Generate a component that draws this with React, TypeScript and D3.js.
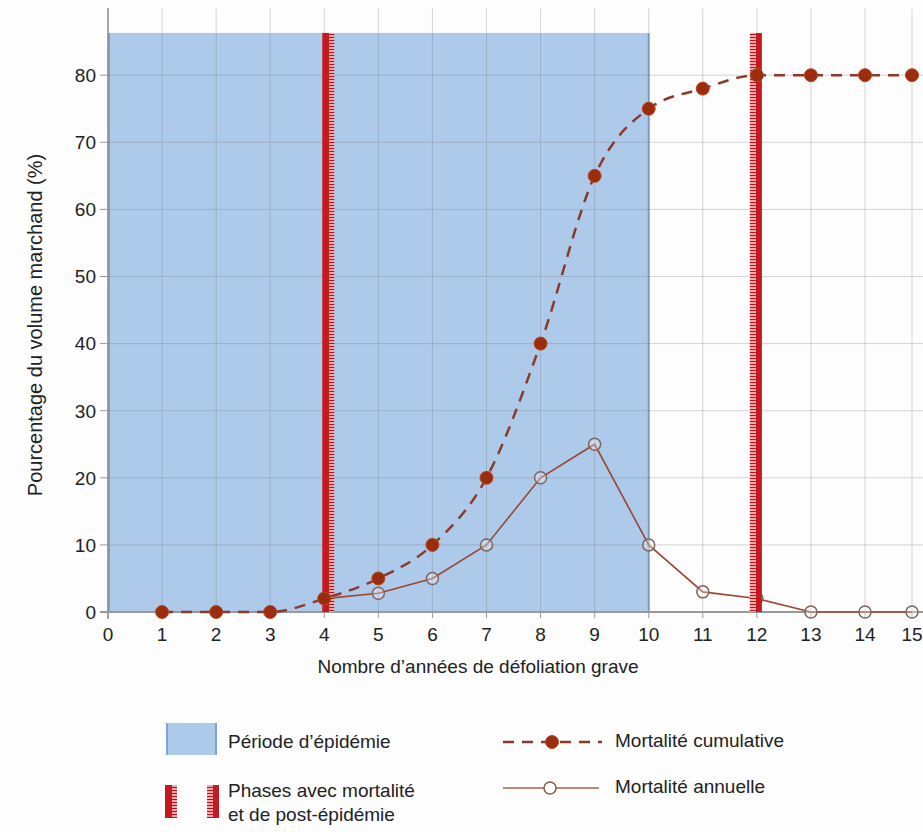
import React from "react";
import * as d3 from "d3";

const years = [1, 2, 3, 4, 5, 6, 7, 8, 9, 10, 11, 12, 13, 14, 15];
const cumulative = [0, 0, 0, 2, 5, 10, 20, 40, 65, 75, 78, 80, 80, 80, 80];
const annualYears = [4, 5, 6, 7, 8, 9, 10, 11, 12, 13, 14, 15];
const annual = [2, 2.8, 5, 10, 20, 25, 10, 3, 2, 0, 0, 0];
const xTicks = [0, 1, 2, 3, 4, 5, 6, 7, 8, 9, 10, 11, 12, 13, 14, 15];
const yTicks = [0, 10, 20, 30, 40, 50, 60, 70, 80];
const epidemicStart = 0;
const epidemicEnd = 10;
const epidemicTop = 86.3;
const phaseYears = [4, 12];

const W = 923;
const H = 832;
const FONT = "'Liberation Sans', Arial, sans-serif";

export default function App() {
  const x = d3.scaleLinear().domain([0, 14, 15]).range([108, 865, 912]);
  const y = d3.scaleLinear().domain([0, 90]).range([612, 8.1]);

  const cumData = years.map((yr, i) => [yr, cumulative[i]] as [number, number]);
  const annData = annualYears.map((yr, i) => [yr, annual[i]] as [number, number]);
  const line = d3
    .line<[number, number]>()
    .x((d) => x(d[0]))
    .y((d) => y(d[1]))
    .curve(d3.curveMonotoneX);
  const lineStraight = d3
    .line<[number, number]>()
    .x((d) => x(d[0]))
    .y((d) => y(d[1]));

  const blue = "#aecaeb";
  const blueEdge = "#7ea4d3";
  const red = "#c41a1f";
  const grid = "rgba(110,110,110,0.28)";

  const renderBar = (cx: number, hatchRight: boolean, top: number, bottom: number, key: string) => {
    const h = bottom - top;
    if (hatchRight) {
      return (
        <g key={key}>
          <rect x={cx - 2} y={top} width={7} height={h} fill={red} />
          <rect x={cx + 5} y={top} width={5} height={h} fill="url(#hatch)" />
        </g>
      );
    }
    return (
      <g key={key}>
        <rect x={cx - 7} y={top} width={6} height={h} fill="url(#hatch)" />
        <rect x={cx - 1} y={top} width={6} height={h} fill={red} />
      </g>
    );
  };

  return (
    <svg
      width={W}
      height={H}
      style={{ position: "absolute", left: 0, top: 0, background: "#fdfdfd" }}
      fontFamily={FONT}
    >
      <defs>
        <pattern id="hatch" width={6} height={3} patternUnits="userSpaceOnUse">
          <rect width={6} height={3} fill="#efb3b3" />
          <line x1={0} x2={6} y1={1.5} y2={1.5} stroke="#b3121d" strokeWidth={1.1} />
        </pattern>
      </defs>

      {/* epidemic period */}
      <rect
        x={x(epidemicStart)}
        y={y(epidemicTop)}
        width={x(epidemicEnd) - x(epidemicStart)}
        height={y(0) - y(epidemicTop)}
        fill={blue}
      />
      <line x1={x(epidemicEnd)} x2={x(epidemicEnd)} y1={y(epidemicTop)} y2={y(0)} stroke={blueEdge} strokeWidth={2} />
      <line x1={x(epidemicStart) + 1} x2={x(epidemicStart) + 1} y1={y(epidemicTop)} y2={y(0)} stroke={blueEdge} strokeWidth={2} />

      {/* grid */}
      {xTicks.slice(1).map((t) => (
        <line key={"gx" + t} x1={x(t)} x2={x(t)} y1={y(90)} y2={y(0)} stroke={grid} strokeWidth={1} />
      ))}
      {yTicks.slice(1).map((t) => (
        <line key={"gy" + t} x1={x(0)} x2={W} y1={y(t)} y2={y(t)} stroke={grid} strokeWidth={1} />
      ))}

      {/* axes */}
      <line x1={x(0)} x2={x(0)} y1={y(90)} y2={y(0) + 7} stroke="#8a8a8a" strokeWidth={1.5} />
      <line x1={x(0) - 8} x2={W} y1={y(0)} y2={y(0)} stroke="#999" strokeWidth={2} />
      {yTicks.map((t) => (
        <g key={"yt" + t}>
          <line x1={x(0) - 8} x2={x(0)} y1={y(t)} y2={y(t)} stroke="#999" strokeWidth={1} />
          <text x={x(0) - 12} y={y(t)} dy="0.36em" textAnchor="end" fontSize={19} fill="#222">
            {t}
          </text>
        </g>
      ))}
      {xTicks.map((t) => (
        <g key={"xt" + t}>
          <line x1={x(t)} x2={x(t)} y1={y(0)} y2={y(0) + 6} stroke="#999" strokeWidth={1} />
          <text x={x(t)} y={641} textAnchor="middle" fontSize={19} fill="#222">
            {t}
          </text>
        </g>
      ))}

      {/* annual mortality */}
      <path d={lineStraight(annData) || ""} fill="none" stroke="#9c4632" strokeWidth={1.6} />
      {annData.map((d, i) => (
        <circle
          key={"a" + i}
          cx={x(d[0])}
          cy={y(d[1])}
          r={6}
          fill="rgba(255,255,255,0.3)"
          stroke="#7d665c"
          strokeWidth={1.5}
        />
      ))}

      {/* phase bars */}
      {phaseYears.map((p, i) => renderBar(x(p), i === 0, y(epidemicTop), y(0), "pb" + i))}

      {/* cumulative mortality */}
      <path d={line(cumData) || ""} fill="none" stroke="#8b3a2a" strokeWidth={2.5} strokeDasharray="11,8" />
      {cumData.map((d, i) => (
        <circle key={"c" + i} cx={x(d[0])} cy={y(d[1])} r={6.5} fill="#9b2c0e" stroke="#b4481f" strokeWidth={1} />
      ))}

      {/* axis titles */}
      <text x={478} y={673} textAnchor="middle" fontSize={19} fill="#222">
        Nombre d’années de défoliation grave
      </text>
      <text transform="translate(42,325) rotate(-90)" textAnchor="middle" fontSize={20} fill="#222">
        Pourcentage du volume marchand (%)
      </text>

      {/* legend */}
      <rect x={166} y={723} width={51} height={32} fill={blue} />
      <line x1={167} x2={167} y1={723} y2={755} stroke={blueEdge} strokeWidth={2} />
      <line x1={216} x2={216} y1={723} y2={755} stroke={blueEdge} strokeWidth={2} />
      <text x={228} y={748} fontSize={19} fill="#222">
        Période d’épidémie
      </text>

      {renderBar(167, true, 785, 818, "lg1")}
      {renderBar(214, false, 785, 818, "lg2")}
      <text x={228} y={797} fontSize={19} fill="#222">
        Phases avec mortalité
      </text>
      <text x={228} y={821} fontSize={19} fill="#222">
        et de post-épidémie
      </text>

      <line x1={503} x2={602} y1={742} y2={742} stroke="#8b3a2a" strokeWidth={2.5} strokeDasharray="11,8" />
      <circle cx={552} cy={742} r={6.5} fill="#9b2c0e" stroke="#b4481f" strokeWidth={1} />
      <text x={615} y={747} fontSize={19} fill="#222">
        Mortalité cumulative
      </text>

      <line x1={503} x2={599} y1={788} y2={788} stroke="#b98a74" strokeWidth={2} />
      <circle cx={550} cy={788} r={6} fill="#fff" stroke="#7d5f52" strokeWidth={1.5} />
      <text x={615} y={793} fontSize={19} fill="#222">
        Mortalité annuelle
      </text>
    </svg>
  );
}
